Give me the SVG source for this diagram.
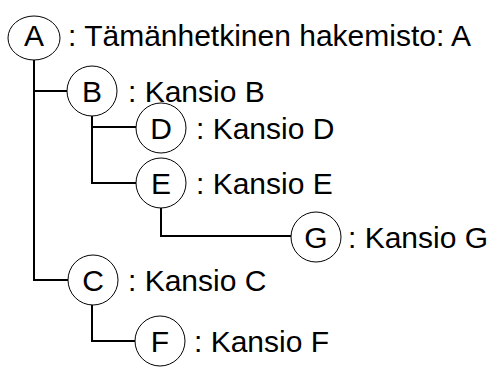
<svg xmlns="http://www.w3.org/2000/svg" width="495" height="367" viewBox="0 0 495 367">
<style>
.n{fill:#fff;stroke:#000;stroke-width:1}
.t{font-family:"Liberation Sans",Arial,sans-serif;font-size:30px;fill:#000}
.c{text-anchor:middle}
.e{fill:none;stroke:#000;stroke-width:2}
</style>
<rect width="495" height="367" fill="#fff"/>
<g id="connectors">
<path class="e" d="M34,60V280H68M34,91H67"/>
<path class="e" d="M92,116V183H136M92,127H136"/>
<path class="e" d="M161,208V236H291"/>
<path class="e" d="M92,305V341H135"/>
</g>
<g id="A"><ellipse class="n" cx="34" cy="38" rx="26" ry="22"/><text class="t c" x="34" y="45.5">A</text><text class="t" x="68" y="46">: Tämänhetkinen hakemisto: A</text></g>
<g id="B"><circle class="n" cx="92" cy="91" r="25"/><text class="t c" x="92" y="101.5">B</text><text class="t" x="128" y="102">: Kansio B</text></g>
<g id="D"><circle class="n" cx="161" cy="128" r="25"/><text class="t c" x="161" y="138.5">D</text><text class="t" x="196" y="139">: Kansio D</text></g>
<g id="E"><circle class="n" cx="161" cy="183" r="25"/><text class="t c" x="161" y="193.5">E</text><text class="t" x="196" y="194">: Kansio E</text></g>
<g id="G"><circle class="n" cx="316" cy="237" r="25"/><text class="t c" x="316" y="247.5">G</text><text class="t" x="348" y="248">: Kansio G</text></g>
<g id="C"><circle class="n" cx="93" cy="280" r="25"/><text class="t c" x="93" y="290.5">C</text><text class="t" x="128" y="291">: Kansio C</text></g>
<g id="F"><circle class="n" cx="160" cy="341" r="25"/><text class="t c" x="160" y="351.5">F</text><text class="t" x="194" y="352">: Kansio F</text></g>
</svg>
